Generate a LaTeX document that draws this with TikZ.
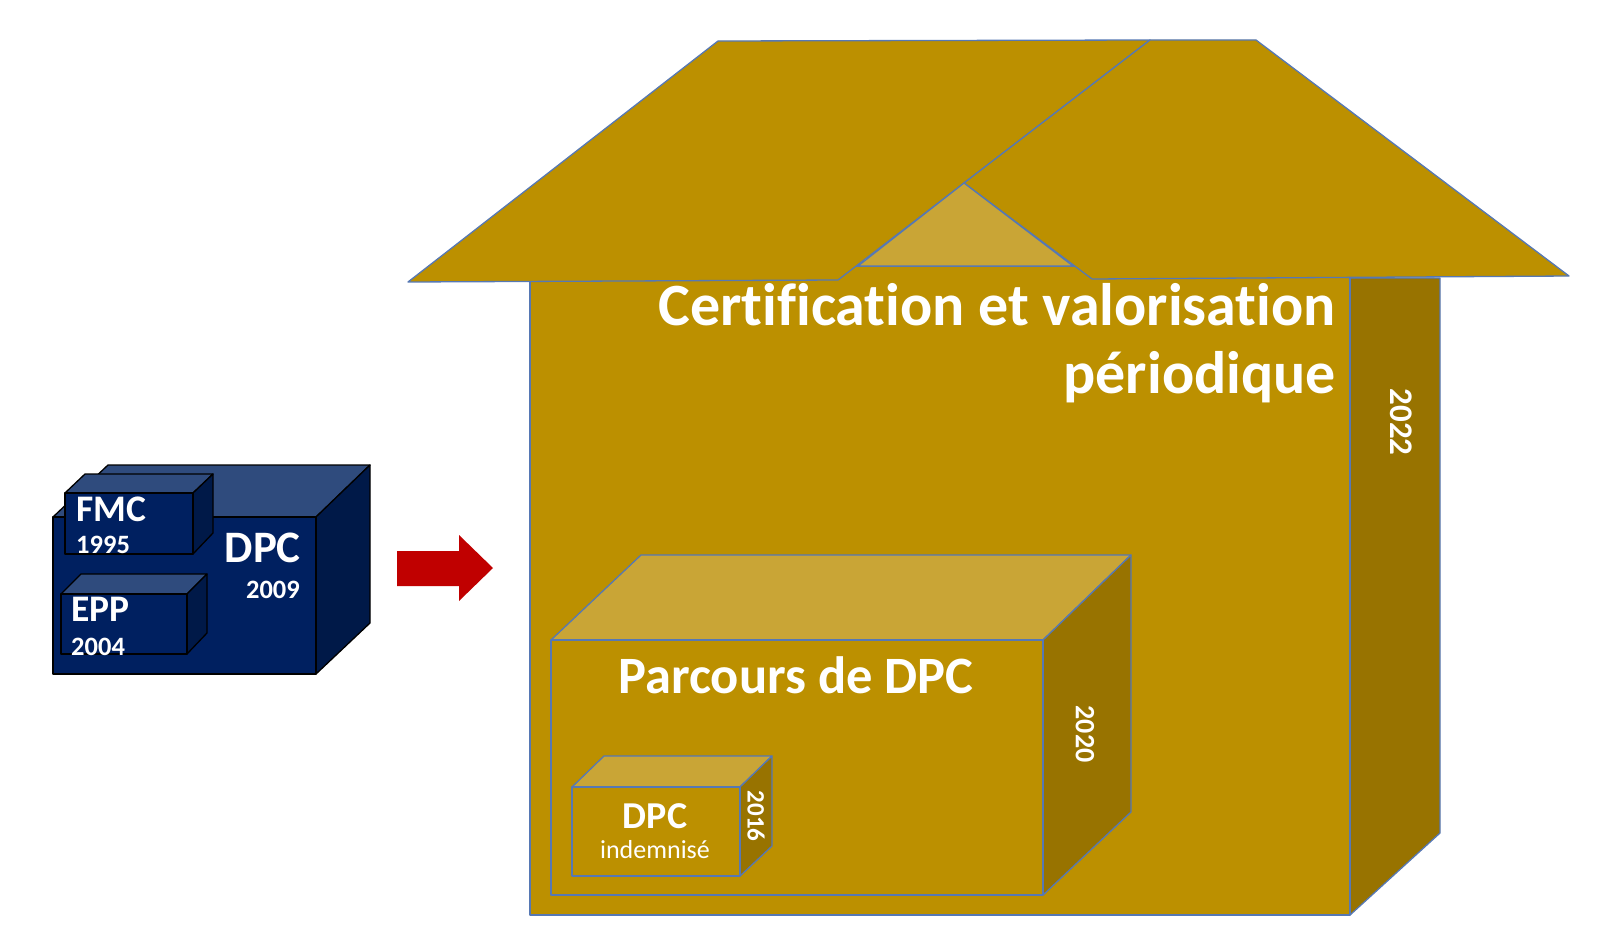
\documentclass[tikz,border=0pt]{standalone}
\usepackage{fontspec}
\setmainfont{Carlito}[Ligatures={NoCommon}]
\definecolor{gold}{RGB}{188,144,0}
\definecolor{goldlight}{RGB}{201,165,54}
\definecolor{golddark}{RGB}{152,115,0}
\definecolor{edge}{RGB}{86,120,180}
\definecolor{navy}{RGB}{0,32,96}
\definecolor{navytop}{RGB}{47,75,125}
\definecolor{navyside}{RGB}{0,25,72}
\definecolor{arrowred}{RGB}{192,0,0}
\begin{document}
\begin{tikzpicture}[x=1pt,y=-1pt,
  gface/.style={fill=gold,draw=edge,line width=1.3pt,line join=round},
  gtop/.style={fill=goldlight,draw=edge,line width=1.3pt,line join=round},
  gside/.style={fill=golddark,draw=edge,line width=1.3pt,line join=round},
  nface/.style={fill=navy,draw=black,line width=1.3pt,line join=round},
  ntop/.style={fill=navytop,draw=black,line width=1.3pt,line join=round},
  nside/.style={fill=navyside,draw=black,line width=1.3pt,line join=round},
  lbl/.style={text=white,font=\bfseries,inner sep=0pt},
  fs/.style={font=\bfseries\fontsize{#1}{#1}\selectfont}]
\useasboundingbox (0,0) rectangle (1598,950);
\fill[white] (0,0) rectangle (1598,950);

% ---------- blue DPC block ----------
\path[ntop] (53,517) -- (108,465) -- (370,465) -- (316,517) -- cycle;
\path[nside] (316,517) -- (370,465) -- (370,623) -- (316,674) -- cycle;
\path[nface] (53,517) rectangle (316,674);
% FMC
\path[ntop] (65,493) -- (85,474) -- (213,474) -- (193,493) -- cycle;
\path[nside] (193,493) -- (213,474) -- (213,533) -- (193,554) -- cycle;
\path[nface] (65,493) rectangle (193,554);
% EPP
\path[ntop] (61,594) -- (81,574) -- (207,574) -- (187,594) -- cycle;
\path[nside] (187,594) -- (207,574) -- (207,633) -- (187,654) -- cycle;
\path[nface] (61,594) rectangle (187,654);

\node[lbl,fs=37.5,anchor=base west] (fmc) at (76,521) {FMC};
\node[lbl,fs=26.5,anchor=base west] (y1995) at (76,553) {1995};
\node[lbl,fs=37.5,anchor=base west] (epp) at (71,621) {EPP};
\node[lbl,fs=26.5,anchor=base west] (y2004) at (71,655) {2004};
\node[lbl,fs=45,anchor=base east] (dpc) at (301,562) {DPC};
\node[lbl,fs=26.5,anchor=base east] (y2009) at (300,598) {2009};

% ---------- red arrow ----------
\fill[arrowred] (397,551) -- (459,551) -- (459,535) -- (493,568) -- (459,601) -- (459,586) -- (397,586) -- cycle;

% ---------- house ----------
\path[gside] (1350,278) -- (1440,278) -- (1440,833) -- (1350,915) -- cycle;
\path[gface] (530,266) rectangle (1350,915);
% roofs
\path[gface] (408,282) -- (718,41) -- (1150,40) -- (838,280) -- cycle;
\path[gface] (1150,40) -- (1256,40) -- (1569,276) -- (1092,279) -- (964,183) -- cycle;
\path[gtop] (964,183) -- (858,266) -- (1073,266) -- cycle;

\node[lbl,fs=60,anchor=base east] (cert1) at (1336,325) {Certification et valorisation};
\node[lbl,fs=60,anchor=base east] (cert2) at (1336,393) {périodique};
\node[lbl,fs=33,rotate=-90] (y2022) at (1401,422) {2022};

% ---------- Parcours de DPC block ----------
\path[gtop] (551,640) -- (641,555) -- (1131,555) -- (1043,640) -- cycle;
\path[gside] (1043,640) -- (1131,555) -- (1131,812) -- (1043,895) -- cycle;
\path[gface] (551,640) rectangle (1043,895);
\node[lbl,fs=52.5,anchor=base] (parcours) at (796,693) {Parcours de DPC};
\node[lbl,fs=28,rotate=-90] (y2020) at (1085,734) {2020};

% ---------- DPC indemnise block ----------
\path[gtop] (572,787) -- (604,756) -- (772,756) -- (740,787) -- cycle;
\path[gside] (740,787) -- (772,756) -- (772,846) -- (740,876) -- cycle;
\path[gface] (572,787) rectangle (740,876);
\node[lbl,fs=38,anchor=base] (dpci) at (655,828) {DPC};
\node[text=white,inner sep=0pt,font=\fontsize{26}{26}\selectfont,anchor=base] (indem) at (655,858) {indemnisé};
\node[lbl,fs=25,rotate=-90] (y2016) at (756,816) {2016};
\end{tikzpicture}
\end{document}
